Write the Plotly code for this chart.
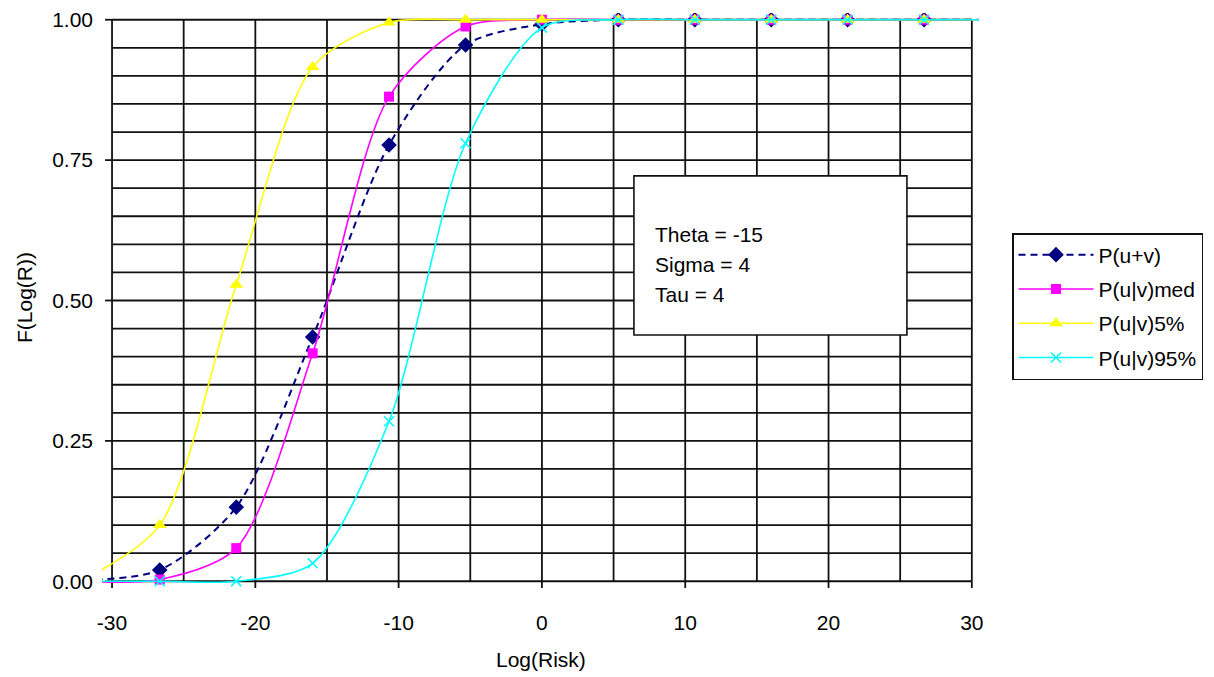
import plotly.graph_objects as go

# ---- data ----
log_risk = [-32, -26.67, -21.33, -16, -10.67, -5.33, 0, 5.33, 10.67, 16, 21.33, 26.67, 32]
p_u_plus_v = [0.002, 0.02, 0.132, 0.435, 0.777, 0.955, 0.992, 1, 1, 1, 1, 1, 1]
p_med = [0.0, 0.003, 0.059, 0.406, 0.863, 0.988, 1, 1, 1, 1, 1, 1, 1]
p_5 = [0.003, 0.10, 0.528, 0.916, 0.995, 1, 1, 1, 1, 1, 1, 1, 1]
p_95 = [0.0, 0.0, 0.0, 0.032, 0.285, 0.78, 0.986, 1, 1, 1, 1, 1, 1]

series_names = ["P(u+v)", "P(u|v)med", "P(u|v)5%", "P(u|v)95%"]
x_tickvals = [-30, -20, -10, 0, 10, 20, 30]
x_ticktext = ["-30", "-20", "-10", "0", "10", "20", "30"]
y_tickvals = [0, 0.25, 0.5, 0.75, 1.0]
y_ticktext = ["0.00", "0.25", "0.50", "0.75", "1.00"]
param_lines = ["Theta = -15", "Sigma = 4", "Tau = 4"]

FONT = "Liberation Sans, Arial, sans-serif"
FS = 21

fig = go.Figure()

fig.add_trace(go.Scatter(
    x=log_risk, y=p_u_plus_v, name=series_names[0], mode="lines+markers", legendgroup="a",
    line=dict(color="#000080", width=2, dash="7px,5px", shape="spline", smoothing=0.8),
    marker=dict(symbol="diamond", size=12, color="#000080"),
))
fig.add_trace(go.Scatter(
    x=log_risk, y=p_med, name=series_names[1], mode="lines+markers", legendgroup="b",
    line=dict(color="#FF00FF", width=1.6, shape="spline", smoothing=0.8),
    marker=dict(symbol="square", size=10, color="#FF00FF"),
))
fig.add_trace(go.Scatter(
    x=log_risk, y=p_5, name=series_names[2], mode="lines+markers", legendgroup="c",
    line=dict(color="#FFFF00", width=1.6, shape="spline", smoothing=0.8),
    marker=dict(symbol="triangle-up", size=12, color="#FFFF00"),
))
fig.add_trace(go.Scatter(
    x=log_risk, y=p_95, name=series_names[3], mode="lines+markers", legendgroup="d",
    line=dict(color="#00FFFF", width=1.6, shape="spline", smoothing=0.8),
    marker=dict(symbol="x-thin", size=10, color="#00FFFF", line=dict(color="#00FFFF", width=1.6)),
))

shapes = []
GRID = dict(color="#111111", width=1.8)
# vertical grid lines every 5
for k in range(13):
    u = -30 + 5 * k
    shapes.append(dict(type="line", xref="x", yref="y", x0=u, x1=u, y0=0, y1=1,
                       line=GRID, layer="below"))
# horizontal grid lines every 0.05
for k in range(21):
    v = k * 0.05
    shapes.append(dict(type="line", xref="x", yref="y", x0=-30, x1=30, y0=v, y1=v,
                       line=GRID, layer="below"))
# tick marks
for v in y_tickvals:
    shapes.append(dict(type="line", xref="x", yref="y", xsizemode="pixel", xanchor=-30,
                       x0=-7, x1=0, y0=v, y1=v, line=GRID, layer="below"))
for u in x_tickvals:
    shapes.append(dict(type="line", xref="x", yref="y", ysizemode="pixel", yanchor=0,
                       y0=-7, y1=0, x0=u, x1=u, line=GRID, layer="below"))
# text box
shapes.append(dict(type="rect", xref="x", yref="y", x0=6.42, x1=25.47, y0=0.4385, y1=0.722,
                   line=dict(color="#111111", width=1.6), fillcolor="white", layer="below"))

annotations = []
for txt, yv in zip(param_lines, [0.617, 0.564, 0.511]):
    annotations.append(dict(text=txt, xref="x", yref="y", x=7.75, y=yv, xanchor="left",
                            yanchor="middle", showarrow=False,
                            font=dict(family=FONT, size=FS, color="black")))
annotations.append(dict(text="Log(Risk)", xref="paper", yref="paper", x=(541 - 102) / 877,
                        y=(588 - 660) / 575, xanchor="center", yanchor="middle", showarrow=False,
                        font=dict(family=FONT, size=FS, color="black")))
annotations.append(dict(text="F(Log(R))", xref="paper", yref="paper", x=(24 - 102) / 877,
                        y=(588 - 298) / 575, xanchor="center", yanchor="middle", showarrow=False,
                        textangle=-90, font=dict(family=FONT, size=FS, color="black")))

fig.update_layout(
    width=1214, height=677,
    margin=dict(l=102, r=235, t=13, b=89),
    paper_bgcolor="white", plot_bgcolor="white",
    font=dict(family=FONT, size=FS, color="black"),
    shapes=shapes, annotations=annotations,
    showlegend=True,
    legend=dict(
        xref="container", yref="container", x=1012 / 1214, y=1 - 233 / 677,
        xanchor="left", yanchor="top", bordercolor="#111111", borderwidth=1.5,
        bgcolor="white", font=dict(family=FONT, size=FS, color="black"),
        itemwidth=75, tracegroupgap=4, traceorder="grouped",
    ),
)
fig.update_xaxes(range=[-30.7, 30.5], tickvals=x_tickvals, ticktext=x_ticktext,
                 showgrid=False, zeroline=False, automargin=False,
                 showline=False, ticks="", ticklabelstandoff=20,
                 tickfont=dict(family=FONT, size=FS, color="black"))
fig.update_yaxes(range=[-0.012, 1.012], tickvals=y_tickvals, ticktext=y_ticktext,
                 showgrid=False, zeroline=False, showline=False, ticks="", automargin=False,
                 ticklabelstandoff=8, tickfont=dict(family=FONT, size=FS, color="black"))

fig.write_html("out.html", config={"displayModeBar": False},
               post_script="document.body.style.margin='0';")
